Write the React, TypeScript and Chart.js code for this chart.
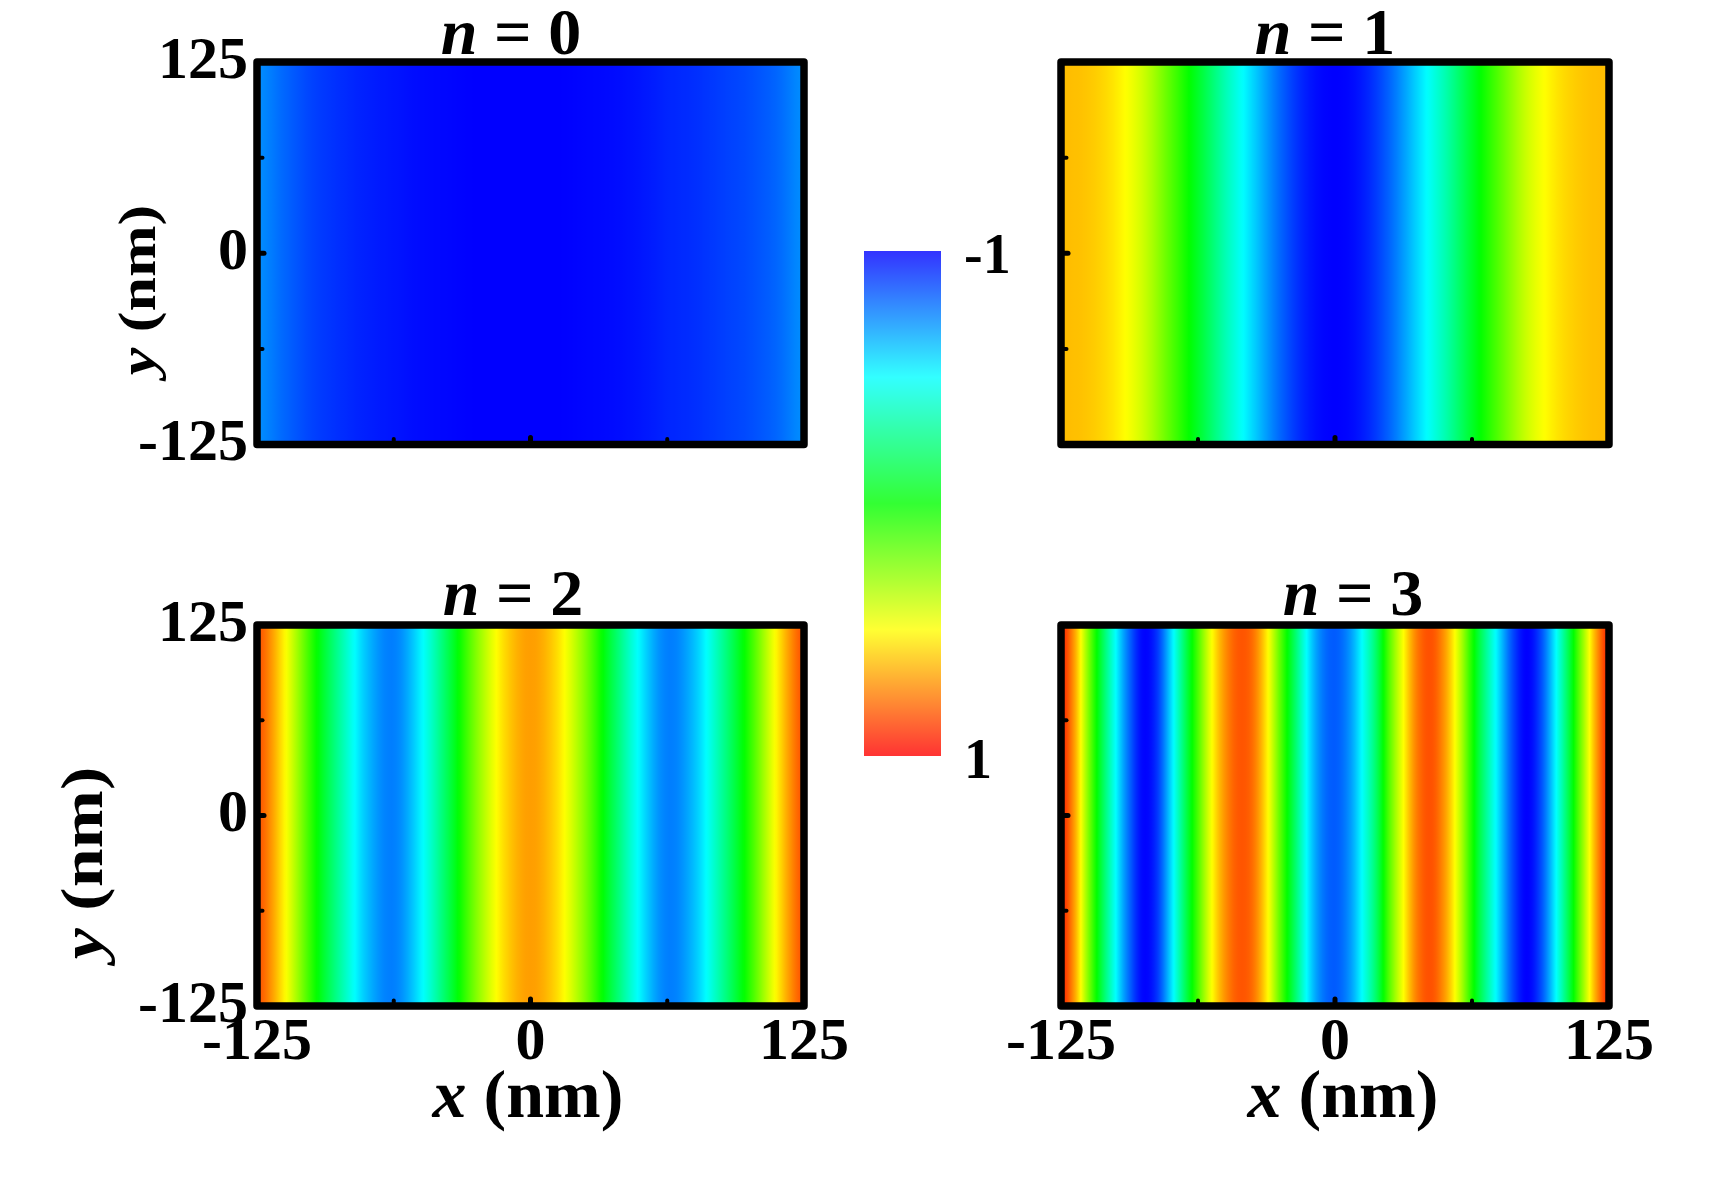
import React, { useEffect, useRef } from "react";
import { Chart, registerables } from "chart.js";

Chart.register(...registerables);

const PAGE_W = 1713;
const PAGE_H = 1198;
const SERIF = "'Liberation Serif', 'Times New Roman', Times, serif";

// ---------- data ----------
const xStep125 = [-125, -112.5, -100, -87.5, -75, -62.5, -50, -37.5, -25, -12.5, 0, 12.5, 25, 37.5, 50, 62.5, 75, 87.5, 100, 112.5, 125];
const xStep625 = [-125, -118.75, -112.5, -106.25, -100, -93.75, -87.5, -81.25, -75, -68.75, -62.5, -56.25, -50, -43.75, -37.5, -31.25, -25, -18.75, -12.5, -6.25, 0, 6.25, 12.5, 18.75, 25, 31.25, 37.5, 43.75, 50, 56.25, 62.5, 68.75, 75, 81.25, 87.5, 93.75, 100, 106.25, 112.5, 118.75, 125];

const fieldN0 = [-0.72, -0.8, -0.87, -0.91, -0.94, -0.96, -0.98, -0.99, -1, -1, -1, -1, -0.99, -0.98, -0.96, -0.93, -0.91, -0.88, -0.85, -0.8, -0.72];
const fieldN1 = [0.63, 0.61, 0.54, 0.4, 0.17, -0.08, -0.35, -0.58, -0.8, -0.95, -1, -0.95, -0.8, -0.58, -0.35, -0.08, 0.17, 0.4, 0.54, 0.61, 0.63];
const fieldN2 = [0.85, 0.52, 0.08, -0.3, -0.62, -0.75, -0.52, -0.15, 0.25, 0.56, 0.69, 0.56, 0.25, -0.15, -0.52, -0.75, -0.62, -0.3, 0.08, 0.52, 0.85];
const fieldN3 = [0.94, 0.68, 0.25, -0.15, -0.5, -0.8, -0.99, -0.9, -0.58, -0.2, 0.15, 0.49, 0.72, 0.83, 0.78, 0.54, 0.18, -0.17, -0.52, -0.75, -0.82, -0.72, -0.49, -0.2, 0.18, 0.5, 0.76, 0.84, 0.7, 0.42, 0.05, -0.28, -0.58, -0.86, -1, -0.86, -0.55, -0.17, 0.25, 0.66, 0.94];

const modeOrders = [0, 1, 2, 3];
const modeXs = [xStep125, xStep125, xStep125, xStep625];
const modeFields = [fieldN0, fieldN1, fieldN2, fieldN3];

const axisRange = [-125, 125];
const axisTickValues = [-125, -62.5, 0, 62.5, 125];
const axisTickLabels = [-125, 0, 125];
const colorbarRange = [-1, 1];
const colorbarTickLabels = [-1, 1];

// ---------- layout / style ----------
const Y_BOX = 200;
const X_BOX = 100;
const TICK_FONT = { family: SERIF, size: 60, weight: "bold" as const, lineHeight: 1 };

const PANELS = [
  { area: { left: 257, top: 62, right: 804, bottom: 444.5 }, showX: false, showY: true, titleX: 511, titleBase: 54, yLabel: { x: 142, y: 290, size: 62 }, xLabel: null as any },
  { area: { left: 1061, top: 62, right: 1609, bottom: 444.5 }, showX: false, showY: false, titleX: 1325, titleBase: 54, yLabel: null as any, xLabel: null as any },
  { area: { left: 257, top: 625, right: 804, bottom: 1006 }, showX: true, showY: true, titleX: 513, titleBase: 615, yLabel: { x: 87, y: 863, size: 70 }, xLabel: { x: 528, y: 1117, size: 68 } },
  { area: { left: 1061, top: 625, right: 1609, bottom: 1006 }, showX: true, showY: false, titleX: 1353, titleBase: 615, yLabel: null as any, xLabel: { x: 1343, y: 1117, size: 68 } },
];
const CBAR = { left: 864, top: 251, right: 941, bottom: 756 };

const JET: [number, number[]][] = [
  [-1, [0, 0, 255]],
  [-0.5, [0, 255, 255]],
  [0, [0, 255, 0]],
  [0.5, [255, 255, 0]],
  [1, [255, 0, 0]],
];

function jet(v: number, fade = 0): string {
  const t = Math.max(-1, Math.min(1, v));
  let i = 0;
  while (i < JET.length - 2 && t > JET[i + 1][0]) i++;
  const [v0, c0] = JET[i];
  const [v1, c1] = JET[i + 1];
  const f = (t - v0) / (v1 - v0);
  const c = c0.map((a, k) => a + (c1[k] - a) * f).map((a) => Math.round(a * (1 - fade) + 255 * fade));
  return `rgb(${c[0]},${c[1]},${c[2]})`;
}

function smoothAt(vals: number[], i: number, t: number): number {
  const p0 = vals[Math.max(i - 1, 0)];
  const p1 = vals[i];
  const p2 = vals[i + 1];
  const p3 = vals[Math.min(i + 2, vals.length - 1)];
  const t2 = t * t;
  const t3 = t2 * t;
  return 0.5 * (2 * p1 + (-p0 + p2) * t + (2 * p0 - 5 * p1 + 4 * p2 - p3) * t2 + (-p0 + 3 * p1 - 3 * p2 + p3) * t3);
}

function fieldGradient(chart: any, xs: number[], vals: number[]) {
  const sx = chart.scales.x;
  const x0 = sx.getPixelForValue(xs[0]);
  const x1 = sx.getPixelForValue(xs[xs.length - 1]);
  const g = chart.ctx.createLinearGradient(x0, 0, x1, 0);
  const N = 12;
  for (let i = 0; i < xs.length - 1; i++) {
    for (let k = 0; k < N; k++) {
      const t = k / N;
      const px = sx.getPixelForValue(xs[i] + (xs[i + 1] - xs[i]) * t);
      g.addColorStop(Math.max(0, Math.min(1, (px - x0) / (x1 - x0))), jet(smoothAt(vals, i, t)));
    }
  }
  g.addColorStop(1, jet(vals[vals.length - 1]));
  return g;
}

function drawMixed(ctx: CanvasRenderingContext2D, parts: [string, boolean][], size: number, cx: number, baseY: number) {
  const fonts = parts.map(([, it]) => `${it ? "italic " : ""}bold ${size}px ${SERIF}`);
  const widths = parts.map(([s], k) => {
    ctx.font = fonts[k];
    return ctx.measureText(s).width;
  });
  const total = widths.reduce((a, b) => a + b, 0);
  let x = cx - total / 2;
  ctx.textAlign = "left";
  ctx.textBaseline = "alphabetic";
  parts.forEach(([s], k) => {
    ctx.font = fonts[k];
    ctx.fillText(s, x, baseY);
    x += widths[k];
  });
}

function makeDecor(p: any, order: number) {
  return {
    id: "panelDecor",
    afterDraw(chart: any) {
      const { ctx, chartArea: a, scales } = chart;
      ctx.save();
      ctx.strokeStyle = "#000";
      ctx.fillStyle = "#000";
      // inward tick marks (small dots past the frame)
      ctx.lineCap = "round";
      axisTickValues.forEach((v) => {
        if (v === axisRange[0] || v === axisRange[1]) return;
        const len = v === 0 ? 7 : 5.5;
        ctx.lineWidth = v === 0 ? 5 : 4;
        const px = scales.x.getPixelForValue(v);
        ctx.beginPath();
        ctx.moveTo(px, a.bottom);
        ctx.lineTo(px, a.bottom - len);
        ctx.stroke();
        const py = scales.y.getPixelForValue(v);
        ctx.beginPath();
        ctx.moveTo(a.left, py);
        ctx.lineTo(a.left + len, py);
        ctx.stroke();
      });
      // frame
      ctx.lineCap = "butt";
      ctx.lineJoin = "round";
      ctx.lineWidth = 7.5;
      ctx.strokeRect(a.left, a.top, a.right - a.left, a.bottom - a.top);
      // title
      drawMixed(ctx, [["n", true], [` = ${order}`, false]], 66, p.titleX, p.titleBase);
      // axis titles
      if (p.xLabel) {
        drawMixed(ctx, [["x", true], [" (nm)", false]], p.xLabel.size, p.xLabel.x, p.xLabel.y);
      }
      if (p.yLabel) {
        ctx.save();
        ctx.translate(p.yLabel.x, p.yLabel.y);
        ctx.scale(0.85, 1);
        ctx.rotate(-Math.PI / 2);
        drawMixed(ctx, [["y", true], [" (nm)", false]], p.yLabel.size, 0, 0.245 * p.yLabel.size);
        ctx.restore();
      }
      ctx.restore();
    },
  };
}

function panelConfig(i: number): any {
  const p = PANELS[i];
  const xs = modeXs[i];
  const vals = modeFields[i];
  const a = p.area;
  return {
    type: "line",
    data: {
      datasets: [
        {
          data: xs.map((x) => ({ x, y: axisRange[1] })),
          fill: { value: axisRange[0] },
          borderWidth: 0,
          pointRadius: 0,
          backgroundColor: (ctx: any) => {
            const c = ctx.chart;
            if (!c.chartArea) return "rgba(0,0,0,0)";
            return fieldGradient(c, xs, vals);
          },
        },
      ],
    },
    options: {
      responsive: false,
      animation: false,
      events: [],
      layout: {
        padding: {
          left: a.left - Y_BOX,
          top: a.top,
          right: PAGE_W - a.right,
          bottom: PAGE_H - a.bottom - X_BOX,
        },
      },
      plugins: { legend: { display: false }, tooltip: { enabled: false }, title: { display: false } },
      scales: {
        x: {
          type: "linear",
          min: axisRange[0],
          max: axisRange[1],
          afterFit: (s: any) => {
            s.height = X_BOX;
          },
          afterBuildTicks: (s: any) => {
            s.ticks = axisTickValues.map((v) => ({ value: v }));
          },
          ticks: {
            display: p.showX,
            autoSkip: false,
            maxRotation: 0,
            minRotation: 0,
            padding: 7,
            color: "#000",
            font: TICK_FONT,
            callback: (v: number) => (axisTickLabels.includes(v) ? String(v) : ""),
          },
          grid: { display: false, drawTicks: false },
          border: { display: false },
        },
        y: {
          type: "linear",
          min: axisRange[0],
          max: axisRange[1],
          afterFit: (s: any) => {
            s.width = Y_BOX;
          },
          afterBuildTicks: (s: any) => {
            s.ticks = axisTickValues.map((v) => ({ value: v }));
          },
          ticks: {
            display: p.showY,
            autoSkip: false,
            padding: 9,
            color: "#000",
            font: TICK_FONT,
            callback: (v: number) => (axisTickLabels.includes(v) ? String(v) : ""),
          },
          grid: { display: false, drawTicks: false },
          border: { display: false },
        },
      },
    },
    plugins: [makeDecor(p, modeOrders[i])],
  };
}

function colorbarConfig(): any {
  return {
    type: "bar",
    data: {
      labels: [""],
      datasets: [
        {
          data: [[colorbarRange[0], colorbarRange[1]]],
          barPercentage: 1,
          categoryPercentage: 1,
          borderWidth: 0,
          backgroundColor: (ctx: any) => {
            const c = ctx.chart;
            if (!c.chartArea) return "rgba(0,0,0,0)";
            const sy = c.scales.y;
            const y0 = sy.getPixelForValue(colorbarRange[0]);
            const y1 = sy.getPixelForValue(colorbarRange[1]);
            const g = c.ctx.createLinearGradient(0, y0, 0, y1);
            const steps = 40;
            for (let k = 0; k <= steps; k++) {
              const v = colorbarRange[0] + ((colorbarRange[1] - colorbarRange[0]) * k) / steps;
              g.addColorStop(k / steps, jet(v, 0.2));
            }
            return g;
          },
        },
      ],
    },
    options: {
      responsive: false,
      animation: false,
      events: [],
      layout: {
        padding: {
          left: CBAR.left,
          top: CBAR.top,
          right: PAGE_W - CBAR.right - 150,
          bottom: PAGE_H - CBAR.bottom,
        },
      },
      plugins: { legend: { display: false }, tooltip: { enabled: false } },
      scales: {
        x: { type: "category", display: false },
        y: {
          type: "linear",
          position: "right",
          reverse: true,
          min: colorbarRange[0],
          max: colorbarRange[1],
          afterFit: (s: any) => {
            s.width = 150;
          },
          afterBuildTicks: (s: any) => {
            s.ticks = colorbarTickLabels.map((v) => ({ value: v }));
          },
          ticks: {
            padding: 23,
            labelOffset: 8,
            color: "#000",
            font: { family: SERIF, size: 56, weight: "bold", lineHeight: 1 },
            callback: (v: number) => String(v),
          },
          grid: { display: false, drawTicks: false },
          border: { display: false },
        },
      },
    },
  };
}

export default function App() {
  const refs = useRef<(HTMLCanvasElement | null)[]>([]);

  useEffect(() => {
    const charts: Chart[] = [];
    PANELS.forEach((_, i) => {
      const c = refs.current[i];
      if (c) charts.push(new Chart(c, panelConfig(i)));
    });
    const cb = refs.current[4];
    if (cb) charts.push(new Chart(cb, colorbarConfig()));
    return () => charts.forEach((c) => c.destroy());
  }, []);

  return (
    <div style={{ position: "absolute", left: 0, top: 0, width: PAGE_W, height: PAGE_H, background: "#fff", overflow: "hidden" }}>
      {[0, 1, 2, 3, 4].map((i) => (
        <canvas
          key={i}
          ref={(el) => {
            refs.current[i] = el;
          }}
          width={PAGE_W}
          height={PAGE_H}
          style={{ position: "absolute", left: 0, top: 0, width: PAGE_W, height: PAGE_H }}
        />
      ))}
    </div>
  );
}
